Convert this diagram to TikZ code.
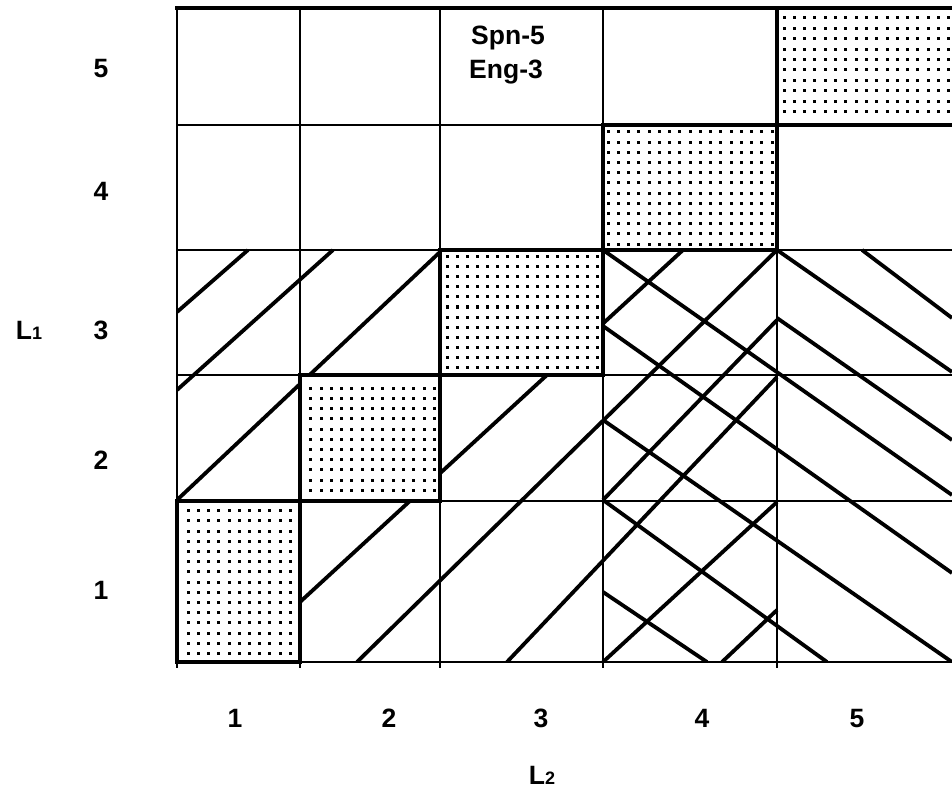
\documentclass[tikz,border=0pt]{standalone}
\usepackage{fontspec}
\setmainfont{Liberation Sans}
\newcommand\dotgridcell[6]{%
  \foreach \i in {0,...,#3}{\foreach \j in {0,...,#4}{%
    \fill ({#1+\i*#5-1.5},{#2+\j*#6-1.5}) rectangle ++(3,3);}}}
\begin{document}
\begin{tikzpicture}[x=1pt,y=-1pt,
  gridline/.style={line width=2.6pt},
  hatchline/.style={line width=3.8pt},
  dotborder/.style={line width=4pt},
  framebar/.style={line width=4.4pt},
  lbl/.style={font=\bfseries\fontsize{26.5}{30}\selectfont, inner sep=0pt},
  numlbl/.style={lbl, text height=19pt, text depth=0pt}]
\useasboundingbox (0,0) rectangle (952,791);
\fill[white] (0,0) rectangle (952,791);
% hatching
\begin{scope}
\clip (177,8) rectangle (952,662);
\draw[hatchline] (177,312) -- (248,250);
\draw[hatchline] (177,390) -- (333,250);
\draw[hatchline] (177,500) -- (440,252);
\draw[hatchline] (300,602) -- (683,250);
\draw[hatchline] (357,662) -- (777,250);
\draw[hatchline] (507,662) -- (777,377);
\draw[hatchline] (603,500) -- (777,320);
\draw[hatchline] (603,662) -- (777,502);
\draw[hatchline] (722,662) -- (777,610);
\draw[hatchline] (603,250) -- (952,495);
\draw[hatchline] (603,326) -- (952,573);
\draw[hatchline] (603,420) -- (952,662);
\draw[hatchline] (603,500) -- (827,662);
\draw[hatchline] (603,592) -- (707,662);
\draw[hatchline] (777,250) -- (952,372);
\draw[hatchline] (777,318) -- (952,440);
\draw[hatchline] (862,250) -- (952,318);
\end{scope}
% dotted cells
\fill[white] (177,501) rectangle (300,662);
\fill[white] (300,375) rectangle (440,501);
\fill[white] (440,250) rectangle (603,375);
\fill[white] (603,125) rectangle (777,250);
\fill[white] (777,8) rectangle (952,125);
\dotgridcell{188.3}{510.7}{10}{14}{10.2}{10.2}
\dotgridcell{310.7}{388.3}{12}{10}{10.3}{10.2}
\dotgridcell{447}{257}{15}{11}{10}{10}
\dotgridcell{608}{132}{16}{11}{10.25}{10.2}
\dotgridcell{784}{18}{16}{9}{10.3}{10.4}
% grid
\foreach \gx in {177,300,440,603,777}
  \draw[gridline] (\gx,8) -- (\gx,668);
\foreach \gy in {125,250,375,501,662}
  \draw[gridline] (177,\gy) -- (952,\gy);
\draw[framebar] (175,8) -- (952,8);
% dotted cell borders
\draw[dotborder] (177,501) rectangle (300,662);
\draw[dotborder] (300,375) rectangle (440,501);
\draw[dotborder] (440,250) rectangle (603,375);
\draw[dotborder] (603,125) rectangle (777,250);
\draw[dotborder] (777,8) -- (777,125) -- (955,125);
% labels
\node[lbl] (spn) at (508,38) {Spn-5};
\node[lbl] (eng) at (506,72) {Eng-3};
\node[numlbl] (r5) at (101,68) {5};
\node[numlbl] (r4) at (101,191) {4};
\node[numlbl] (r3) at (101,330) {3};
\node[numlbl] (r2) at (101,460) {2};
\node[numlbl] (r1) at (101,590) {1};
\node[numlbl] (lone) at (29,330) {L{\fontsize{18}{20}\selectfont 1}};
\node[numlbl] (c1) at (235,718) {1};
\node[numlbl] (c2) at (389,718) {2};
\node[numlbl] (c3) at (541,718) {3};
\node[numlbl] (c4) at (702,718) {4};
\node[numlbl] (c5) at (857,718) {5};
\node[lbl] (ltwo) at (542,775) {L{\fontsize{18}{20}\selectfont 2}};
\end{tikzpicture}
\end{document}
